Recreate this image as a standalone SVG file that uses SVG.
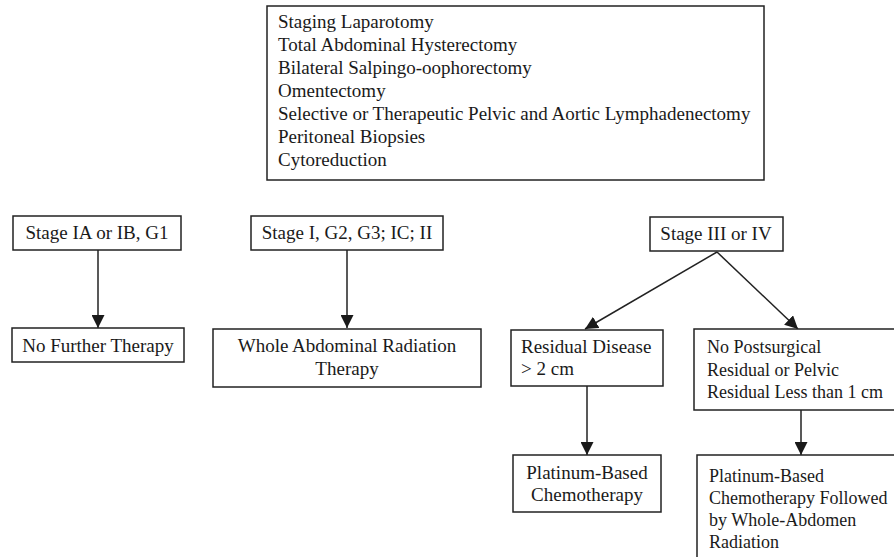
<svg xmlns="http://www.w3.org/2000/svg" width="894" height="557" viewBox="0 0 894 557">
<defs>
<style>
.box{fill:#fff;stroke:#222;stroke-width:1.5}
.t{font-family:"Liberation Serif","Times New Roman",serif;font-size:19px;fill:#1a1a1a}
.s{font-size:18px}
.c{text-anchor:middle}
.ln{stroke:#222;stroke-width:1.5;fill:none}
</style>
<marker id="ah" viewBox="0 0 12 12" refX="12" refY="6" markerWidth="13" markerHeight="13" markerUnits="userSpaceOnUse" orient="auto">
<path d="M0,0 L12,6 L0,12 Z" fill="#1a1a1a"/>
</marker>
</defs>
<rect width="894" height="557" fill="#fff"/>
<g id="connectors">
<line class="ln" x1="98" y1="250" x2="98" y2="328" marker-end="url(#ah)"/>
<line class="ln" x1="347" y1="250" x2="347" y2="328" marker-end="url(#ah)"/>
<line class="ln" x1="717" y1="252" x2="585" y2="329" marker-end="url(#ah)"/>
<line class="ln" x1="717" y1="252" x2="798" y2="329" marker-end="url(#ah)"/>
<line class="ln" x1="587" y1="386" x2="587" y2="455" marker-end="url(#ah)"/>
<line class="ln" x1="801" y1="410" x2="801" y2="455" marker-end="url(#ah)"/>
</g>
<g id="surgery">
<rect class="box" x="267" y="6" width="497" height="174"/>
<text class="t" x="278" y="28">Staging Laparotomy</text>
<text class="t" x="278" y="51">Total Abdominal Hysterectomy</text>
<text class="t" x="278" y="74">Bilateral Salpingo-oophorectomy</text>
<text class="t" x="278" y="97">Omentectomy</text>
<text class="t" x="278" y="120">Selective or Therapeutic Pelvic and Aortic Lymphadenectomy</text>
<text class="t" x="278" y="143">Peritoneal Biopsies</text>
<text class="t" x="278" y="166">Cytoreduction</text>
</g>
<g id="stage1a">
<rect class="box" x="13" y="216" width="168" height="34"/>
<text class="t c" x="97" y="239">Stage IA or IB, G1</text>
</g>
<g id="stage1g2">
<rect class="box" x="251" y="216" width="192" height="34"/>
<text class="t c" x="347" y="239">Stage I, G2, G3; IC; II</text>
</g>
<g id="stage3">
<rect class="box" x="650" y="217" width="133" height="34"/>
<text class="t c" x="716" y="240">Stage III or IV</text>
</g>
<g id="nofurther">
<rect class="box" x="12" y="328" width="172" height="34"/>
<text class="t c" x="98" y="352">No Further Therapy</text>
</g>
<g id="whole">
<rect class="box" x="213" y="329" width="268" height="58"/>
<text class="t c" x="347" y="352">Whole Abdominal Radiation</text>
<text class="t c" x="347" y="375">Therapy</text>
</g>
<g id="residual">
<rect class="box" x="511" y="330" width="152" height="56"/>
<text class="t" x="521" y="353">Residual Disease</text>
<text class="t" x="521" y="375">&gt; 2 cm</text>
</g>
<g id="nopost">
<rect class="box" x="694" y="329" width="210" height="81"/>
<text class="t s" x="707" y="353">No Postsurgical</text>
<text class="t s" x="707" y="376">Residual or Pelvic</text>
<text class="t s" x="707" y="398">Residual Less than 1 cm</text>
</g>
<g id="platinum">
<rect class="box" x="513" y="455" width="148" height="57"/>
<text class="t c" x="587" y="479">Platinum-Based</text>
<text class="t c" x="587" y="501">Chemotherapy</text>
</g>
<g id="platinum2">
<rect class="box" x="697" y="455" width="207" height="110"/>
<text class="t s" x="709" y="482">Platinum-Based</text>
<text class="t s" x="709" y="504">Chemotherapy Followed</text>
<text class="t s" x="709" y="526">by Whole-Abdomen</text>
<text class="t s" x="709" y="548">Radiation</text>
</g>
</svg>
